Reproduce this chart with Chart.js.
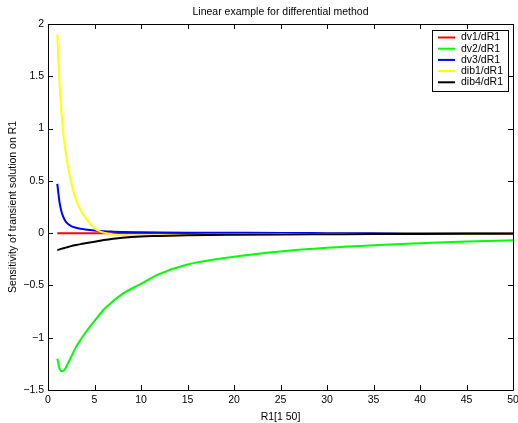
<!DOCTYPE html>
<html>
<head>
<meta charset="utf-8">
<script src="https://cdn.jsdelivr.net/npm/chart.js@4/dist/chart.umd.min.js"></script>
<style>
html,body{margin:0;padding:0;background:#fff;}
#wrap{width:518px;height:423px;}
</style>
</head>
<body>
<div id="wrap"><canvas id="c" width="518" height="423"></canvas></div>
<script>
const r1Values = [1,1.25,1.5,1.75,2,2.5,3,3.5,4,5,6,7,8,10,12,15,20,25,30,35,40,45,50];
const dv1 = [0,0,0,0,0,0,0,0,0,0,0,0,0,0,0,0,0,0,0,0,0,0,0];
const dv2 = [-1.20,-1.30,-1.32,-1.31,-1.27,-1.18,-1.09,-1.02,-0.955,-0.84,-0.73,-0.65,-0.58,-0.485,-0.39,-0.30,-0.225,-0.175,-0.14,-0.115,-0.097,-0.08,-0.068];
const dv3 = [0.47,0.29,0.19,0.135,0.10,0.068,0.052,0.042,0.035,0.025,0.018,0.014,0.011,0.008,0.006,0.004,0.003,0.002,0.002,0.001,0.001,0.001,0.001];
const dib1 = [1.90,1.42,1.10,0.87,0.71,0.48,0.32,0.22,0.15,0.045,0.005,-0.012,-0.02,-0.023,-0.021,-0.018,-0.012,-0.009,-0.007,-0.005,-0.004,-0.003,-0.003];
const dib4 = [-0.163,-0.155,-0.148,-0.142,-0.136,-0.124,-0.114,-0.105,-0.097,-0.082,-0.066,-0.053,-0.043,-0.031,-0.027,-0.021,-0.016,-0.013,-0.011,-0.009,-0.008,-0.007,-0.006];
const seriesNames = ['dv1/dR1','dv2/dR1','dv3/dR1','dib1/dR1','dib4/dR1'];
const seriesColors = ['#ff0000','#00ff00','#0000ff','#ffff00','#000000'];
const xTicks = [0,5,10,15,20,25,30,35,40,45,50];
const yTicks = [-1.5,-1,-0.5,0,0.5,1,1.5,2];
const chartTitle = 'Linear example for differential method';

const FONT = 'Liberation Sans, Arial, Helvetica, sans-serif';
const allSeries = [dv1,dv2,dv3,dib1,dib4];
const datasets = allSeries.map((s,i)=>({
  label: seriesNames[i],
  data: r1Values.map((x,j)=>({x:x,y:s[j]})),
  borderColor: seriesColors[i],
  backgroundColor: seriesColors[i],
  borderWidth: 2,
  pointRadius: 0,
  fill: false,
  order: allSeries.length - 1 - i,
  cubicInterpolationMode: 'monotone'
}));

const fmt = v => String(v).replace('-', '\u2212');

const framePlugin = {
  id: 'frame',
  afterDraw(chart) {
    const ctx = chart.ctx;
    const a = chart.chartArea;
    const xs = chart.scales.x, ys = chart.scales.y;
    ctx.save();
    // title centered over the plot area
    ctx.fillStyle = '#000';
    ctx.font = '10.5px ' + FONT;
    ctx.textAlign = 'center';
    ctx.textBaseline = 'middle';
    ctx.fillText(chartTitle, (a.left + a.right) / 2, 12);

    ctx.strokeStyle = '#000';
    ctx.lineWidth = 1;
    ctx.beginPath();
    ctx.rect(Math.round(a.left)+0.5, Math.round(a.top)+0.5, Math.round(a.right-a.left), Math.round(a.bottom-a.top));
    ctx.stroke();
    const L = 5;
    ctx.beginPath();
    xTicks.forEach(v=>{
      const px = Math.round(xs.getPixelForValue(v))+0.5;
      ctx.moveTo(px, a.bottom); ctx.lineTo(px, a.bottom - L);
      ctx.moveTo(px, a.top); ctx.lineTo(px, a.top + L);
    });
    yTicks.forEach(v=>{
      const py = Math.round(ys.getPixelForValue(v))+0.5;
      ctx.moveTo(a.left, py); ctx.lineTo(a.left + L, py);
      ctx.moveTo(a.right, py); ctx.lineTo(a.right - L, py);
    });
    ctx.stroke();
    // legend
    const bx = 432, by = 30, bw = 76, bh = 61;
    ctx.fillStyle = '#fff';
    ctx.fillRect(bx, by, bw, bh);
    ctx.strokeRect(bx+0.5, by+0.5, bw, bh);
    ctx.font = '10.5px ' + FONT;
    ctx.textBaseline = 'middle';
    ctx.textAlign = 'left';
    chart.data.datasets.forEach((d,i)=>{
      const y = by + 7.5 + i*11.2;
      ctx.strokeStyle = d.borderColor;
      ctx.lineWidth = 2;
      ctx.beginPath();
      ctx.moveTo(bx+6, y); ctx.lineTo(bx+23, y);
      ctx.stroke();
      ctx.fillStyle = '#000';
      ctx.fillText(d.label, bx+29, y);
    });
    ctx.restore();
  }
};

new Chart(document.getElementById('c'), {
  type: 'line',
  data: { datasets },
  plugins: [framePlugin],
  options: {
    responsive: false,
    animation: false,
    layout: { padding: { left: 0, right: 5, top: 24, bottom: 0 } },
    plugins: {
      legend: { display: false },
      tooltip: { enabled: false },
      title: { display: false }
    },
    scales: {
      x: {
        type: 'linear',
        min: 0, max: 50,
        afterBuildTicks: s => { s.ticks = xTicks.map(v=>({value:v})); },
        afterFit: s => { s.height = 33; s.paddingLeft = 0; s.paddingRight = 0; },
        grid: { display: false, drawTicks: false },
        border: { display: false },
        ticks: { color: '#000', font: { family: FONT, size: 10.5 }, padding: 4, maxRotation: 0, autoSkip: false, callback: v => fmt(v) },
        title: { display: true, text: 'R1[1 50]', color: '#000', font: { family: FONT, size: 10.5 }, padding: { top: 1, bottom: 0 } }
      },
      y: {
        type: 'linear',
        min: -1.5, max: 2,
        afterBuildTicks: s => { s.ticks = yTicks.map(v=>({value:v})); },
        afterFit: s => { s.width = 48; s.paddingTop = 0; s.paddingBottom = 0; },
        grid: { display: false, drawTicks: false },
        border: { display: false },
        ticks: { color: '#000', font: { family: FONT, size: 10.5 }, padding: 4, autoSkip: false, callback: v => fmt(v) },
        title: { display: true, text: 'Sensitivity of transient solution on R1', color: '#000', font: { family: FONT, size: 10.5 }, padding: { top: 7, bottom: 0 } }
      }
    }
  }
});
</script>
</body>
</html>
